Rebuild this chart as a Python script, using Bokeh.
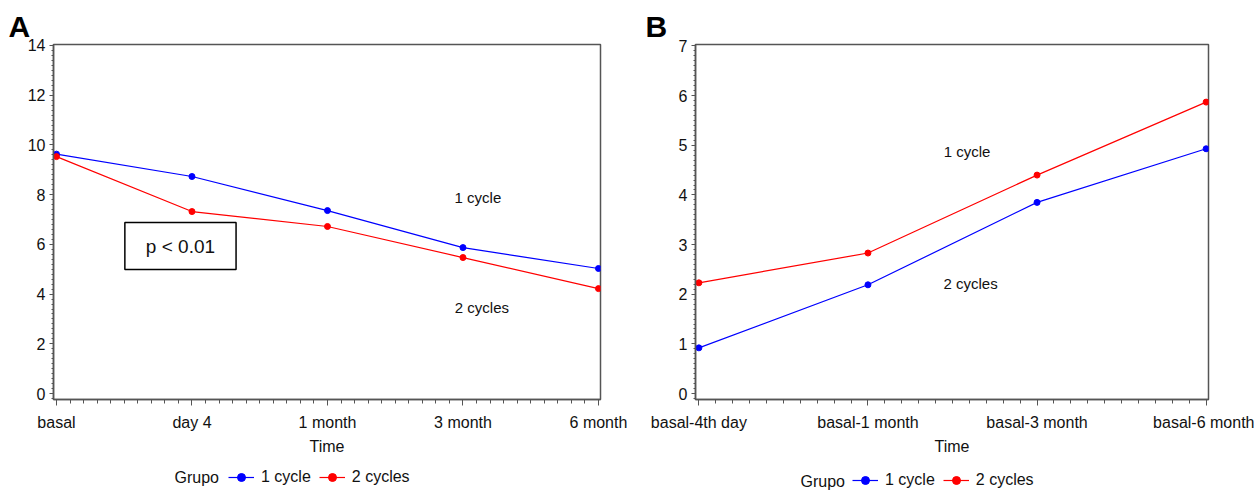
from bokeh.plotting import figure
from bokeh.layouts import row, column
from bokeh.models import (Label, Legend, LegendItem, FixedTicker,
                          SingleIntervalTicker, Range1d)
from bokeh.embed import file_html
from bokeh.resources import INLINE

# ---- data ----
time_a = ["basal", "day 4", "1 month", "3 month", "6 month"]
a_one_cycle = [9.63, 8.73, 7.36, 5.87, 5.03]
a_two_cycles = [9.53, 7.32, 6.72, 5.47, 4.22]

time_b = ["basal-4th day", "basal-1 month", "basal-3 month", "basal-6 month"]
b_one_cycle = [0.92, 2.19, 3.85, 4.93]
b_two_cycles = [2.23, 2.83, 4.40, 5.87]

series_names = ["1 cycle", "2 cycles"]
legend_title = "Grupo"

FONT = "Liberation Sans"
AX = "#555555"
TXT = "#111111"
BLUE = "#0000ff"
RED = "#ff0000"
TICK_FS = "16px"


def make_panel(cats, one, two, width, height, borders, xr, yr, yint, letter, letter_off):
    left, right, top, bottom = borders
    p = figure(width=width, height=height, output_backend="svg",
               toolbar_location=None, x_range=Range1d(*xr), y_range=Range1d(*yr),
               min_border_left=left, min_border_right=right,
               min_border_top=top, min_border_bottom=bottom, title=letter)
    p.title.align = "left"
    p.title.offset = letter_off
    p.title.text_font = FONT
    p.title.text_font_size = "30px"
    p.title.text_font_style = "bold"
    p.title.text_color = "#000000"
    p.title.standoff = 4
    p.xgrid.visible = False
    p.ygrid.visible = False
    p.outline_line_color = AX
    p.outline_line_width = 1.5
    xs = list(range(len(cats)))

    p.xaxis.ticker = FixedTicker(ticks=xs,
                                 minor_ticks=[i / 10 for i in range(0, 10 * (len(cats) - 1) + 1)])
    p.xaxis.major_label_overrides = {i: c for i, c in enumerate(cats)}
    p.yaxis.ticker = SingleIntervalTicker(interval=yint, num_minor_ticks=10)
    for ax in (p.xaxis[0], p.yaxis[0]):
        ax.axis_line_color = AX
        ax.axis_line_width = 1.5
        ax.major_tick_line_color = AX
        ax.minor_tick_line_color = AX
        ax.major_label_text_font = FONT
        ax.major_label_text_font_size = TICK_FS
        ax.major_label_text_color = TXT
        ax.major_tick_in = 0
        ax.minor_tick_in = 0
    p.xaxis.major_tick_out = 6
    p.xaxis.minor_tick_out = 4
    p.yaxis.major_tick_out = 4
    p.yaxis.minor_tick_out = 2
    p.xaxis.major_label_standoff = 8
    p.yaxis.major_label_standoff = 4
    p.xaxis.axis_label = "Time"
    p.xaxis.axis_label_text_font = FONT
    p.xaxis.axis_label_text_font_style = "normal"
    p.xaxis.axis_label_text_font_size = TICK_FS
    p.xaxis.axis_label_text_color = TXT
    p.xaxis.axis_label_standoff = 4

    p.line(xs, one, line_color=BLUE, line_width=1.2)
    p.scatter(xs, one, marker="circle", size=6, color=BLUE)
    p.line(xs, two, line_color=RED, line_width=1.2)
    p.scatter(xs, two, marker="circle", size=6, color=RED)
    return p


def make_legend(one, two, width, height, legend_loc, grupo_pos):
    # strip below each panel holding the legend; the series glyphs sit
    # outside its ranges so only the legend keys are visible
    q = figure(width=width, height=height, output_backend="svg",
               toolbar_location=None, x_range=Range1d(-10, -9),
               y_range=Range1d(-10, -9), x_axis_type=None, y_axis_type=None,
               min_border=0)
    q.outline_line_color = None
    q.grid.visible = False
    xs = list(range(len(one)))
    l1 = q.line(xs, one, line_color=BLUE, line_width=1.2)
    s1 = q.scatter(xs, one, marker="circle", size=6, color=BLUE)
    l2 = q.line(xs, two, line_color=RED, line_width=1.2)
    s2 = q.scatter(xs, two, marker="circle", size=6, color=RED)
    legend = Legend(items=[LegendItem(label=series_names[0], renderers=[l1, s1]),
                           LegendItem(label=series_names[1], renderers=[l2, s2])],
                    orientation="horizontal", location=legend_loc,
                    border_line_color=None, background_fill_alpha=0,
                    label_text_font=FONT, label_text_font_size=TICK_FS,
                    label_text_color=TXT, glyph_width=26, glyph_height=20,
                    label_height=20, label_standoff=7, spacing=8, padding=0,
                    margin=0)
    q.add_layout(legend, "center")
    q.add_layout(Label(x=grupo_pos[0], y=grupo_pos[1], x_units="screen",
                       y_units="screen", text=legend_title, text_align="left",
                       text_baseline="middle", text_font=FONT,
                       text_font_size=TICK_FS, text_color=TXT))
    return q


pa = make_panel(time_a, a_one_cycle, a_two_cycles, 640, 460, (53, 40, 44, 61),
                (-0.022, 4.015), (-0.24, 14.04), 2, "A", -45)
pa.add_layout(Label(x=3.11, y=7.88, text="1 cycle", text_align="center",
                    text_baseline="middle", text_font=FONT, text_font_size="15px",
                    text_color=TXT))
pa.add_layout(Label(x=3.14, y=3.46, text="2 cycles", text_align="center",
                    text_baseline="middle", text_font=FONT, text_font_size="15px",
                    text_color=TXT))
pa.add_layout(Label(x=0.915, y=5.93, text="p < 0.01", text_align="center",
                    text_baseline="middle", text_font=FONT, text_font_size="19px",
                    text_color=TXT, border_line_color="black", border_line_width=1.5,
                    background_fill_color="white", padding=(21, 13)))

pb = make_panel(time_b, b_one_cycle, b_two_cycles, 614, 460, (55, 46, 42, 57),
                (-0.02, 3.014), (-0.12, 7.03), 1, "B", -50)
pb.add_layout(Label(x=1.586, y=4.87, text="1 cycle", text_align="center",
                    text_baseline="middle", text_font=FONT, text_font_size="15px",
                    text_color=TXT))
pb.add_layout(Label(x=1.607, y=2.21, text="2 cycles", text_align="center",
                    text_baseline="middle", text_font=FONT, text_font_size="15px",
                    text_color=TXT))

la = make_legend(a_one_cycle, a_two_cycles, 640, 30, (228, 3), (174, 13))
lb = make_legend(b_one_cycle, b_two_cycles, 614, 30, (212, 0), (160, 9))

layout = column(row(pa, pb), row(la, lb))
open("out.html", "w").write(file_html(layout, INLINE))
